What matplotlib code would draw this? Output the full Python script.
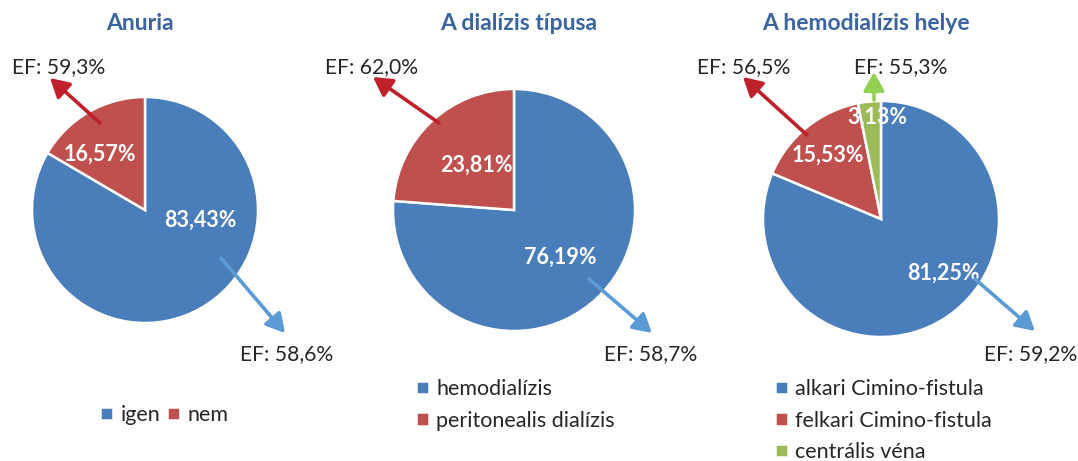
import matplotlib
matplotlib.use('Agg')
import matplotlib.pyplot as plt

plt.rcParams['font.family'] = ['Lato', 'DejaVu Sans']

W, H = 1078, 461

# data
titles = ['Anuria', 'A dialízis típusa', 'A hemodialízis helye']
labels_1 = ['igen', 'nem']
values_1 = [83.43, 16.57]
ef_1 = ['58,6%', '59,3%']
labels_2 = ['hemodialízis', 'peritonealis dialízis']
values_2 = [76.19, 23.81]
ef_2 = ['58,7%', '62,0%']
labels_3 = ['alkari Cimino-fistula', 'felkari Cimino-fistula', 'centrális véna']
values_3 = [81.25, 15.53, 3.13]
ef_3 = ['59,2%', '56,5%', '55,3%']

colors = ['#4A7EBB', '#C0504D', '#9BBB59']
arrow_colors = ['#5B9BD5', '#C0202A', '#92D050']
title_color = '#3A64A0'
text_color = '#262626'


def fx(x, y):
    # pixel (from top-left) -> figure fraction
    return (x / W, 1 - y / H)


fig = plt.figure(figsize=(W / 100, H / 100), dpi=100)

# layout per pie: center, radius, label positions (pie units), title x,
# EF text positions (left x, center y), arrows (tail, head)
layout = [
    dict(c=(145, 210), r=113,
         lab=[(0.49, -0.09), (-0.40, 0.49)],
         tx=140,
         ef=[(240, 354), (12, 67)],
         arr=[((221, 258), (285, 333)), ((100, 123), (50, 78))]),
    dict(c=(514, 210), r=121,
         lab=[(0.38, -0.39), (-0.31, 0.37)],
         tx=519,
         ef=[(604, 354), (325, 67)],
         arr=[((589, 279), (652, 333)), ((439, 123), (373, 77))]),
    dict(c=(881, 219), r=118,
         lab=[(0.53, -0.46), (-0.45, 0.54), (-0.03, 0.86)],
         tx=866,
         ef=[(984, 354), (697, 67), (854, 67)],
         arr=[((975, 279), (1035, 331)), ((807, 135), (743, 77)),
              ((874, 100), (874, 72))]),
]

all_values = [values_1, values_2, values_3]
all_labels = [labels_1, labels_2, labels_3]
all_ef = [ef_1, ef_2, ef_3]

wedge_sets = []
for i, lay in enumerate(layout):
    cx, cy = lay['c']
    r = lay['r']
    ax = fig.add_axes([(cx - r) / W, 1 - (cy + r) / H, 2 * r / W, 2 * r / H])
    vals = all_values[i]
    wedges, _ = ax.pie(vals, startangle=90, counterclock=False,
                       colors=colors[:len(vals)],
                       wedgeprops=dict(edgecolor='white', linewidth=1.8))
    ax.set_xlim(-1, 1)
    ax.set_ylim(-1, 1)
    ax.axis('off')
    wedge_sets.append(wedges)
    for v, (lx, ly) in zip(vals, lay['lab']):
        ax.text(lx, ly, f'{v:.2f}%'.replace('.', ','), ha='center', va='center',
                color='white', fontsize=15.5, fontweight='bold')

    fig.text(*fx(lay['tx'], 24), titles[i], ha='center', va='center',
             color=title_color, fontsize=16.5, fontweight='bold')

    for j, (ex, ey) in enumerate(lay['ef']):
        fig.text(*fx(ex, ey), 'EF: ' + all_ef[i][j], ha='left', va='center',
                 color=text_color, fontsize=15.2)
    for j, (tail, head) in enumerate(lay['arr']):
        fig.add_artist(matplotlib.patches.FancyArrowPatch(
            fx(*tail), fx(*head), transform=fig.transFigure,
            arrowstyle='-|>,head_length=8,head_width=4.5', mutation_scale=1.4,
            color=arrow_colors[j], linewidth=2.6, shrinkA=0, shrinkB=0))

leg_kw = dict(frameon=False, fontsize=15.5, handlelength=0.6, handleheight=0.6,
              handletextpad=0.35, borderpad=0, borderaxespad=0,
              labelcolor=text_color)
fig.legend(wedge_sets[0], labels_1, loc='center left',
           bbox_to_anchor=fx(100, 415), ncol=2, columnspacing=0.3, **leg_kw)
fig.legend(wedge_sets[1], labels_2, loc='upper left',
           bbox_to_anchor=fx(416, 379), labelspacing=0.54, **leg_kw)
fig.legend(wedge_sets[2], labels_3, loc='upper left',
           bbox_to_anchor=fx(775, 379), labelspacing=0.54, **leg_kw)

fig.savefig('out.png', dpi=100)
